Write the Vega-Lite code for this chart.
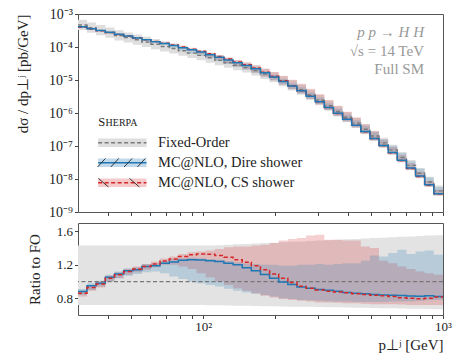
{
  "$schema": "https://vega.github.io/schema/vega-lite/v6.json",
  "background": "white",
  "padding": {"left": 14, "top": 6, "right": 4, "bottom": 5},
  "spacing": 2,
  "config": {
    "font": "Liberation Serif",
    "view": {"stroke": "#555", "strokeWidth": 1},
    "text": {"font": "Liberation Serif"},
    "axis": {"domain": false, "grid": false, "tickColor": "#444", "labelColor": "#222", "labelFontSize": 13, "titleFontSize": 15, "titleFontWeight": "normal", "titleColor": "#222", "labelFont": "Liberation Serif", "titleFont": "Liberation Serif", "tickSize": 3.5}
  },
  "datasets": {
    "bins": [
      {"lo":30.0,"fo":4.62e-4,"fo_lo":3.27e-4,"fo_hi":6.68e-4,"dire":4.09e-4,"cs":4.00e-4,"d_lo":3.88e-4,"d_hi":4.20e-4,"c_lo":3.79e-4,"c_hi":4.11e-4,"rd":0.88,"rd_lo":0.84,"rd_hi":0.91,"rc":0.86,"rc_lo":0.82,"rc_hi":0.89,"rf_lo":0.72,"rf_hi":1.43},
      {"lo":32.7,"fo":3.83e-4,"fo_lo":2.71e-4,"fo_hi":5.53e-4,"dire":3.60e-4,"cs":3.52e-4,"d_lo":3.45e-4,"d_hi":3.75e-4,"c_lo":3.41e-4,"c_hi":3.68e-4,"rd":0.95,"rd_lo":0.90,"rd_hi":0.98,"rc":0.93,"rc_lo":0.89,"rc_hi":0.96,"rf_lo":0.72,"rf_hi":1.43},
      {"lo":35.7,"fo":3.20e-4,"fo_lo":2.27e-4,"fo_hi":4.62e-4,"dire":3.17e-4,"cs":3.12e-4,"d_lo":3.01e-4,"d_hi":3.23e-4,"c_lo":2.98e-4,"c_hi":3.20e-4,"rd":0.98,"rd_lo":0.94,"rd_hi":1.01,"rc":0.97,"rc_lo":0.93,"rc_hi":1.00,"rf_lo":0.72,"rf_hi":1.43},
      {"lo":39.0,"fo":2.68e-4,"fo_lo":1.90e-4,"fo_hi":3.87e-4,"dire":2.79e-4,"cs":2.76e-4,"d_lo":2.68e-4,"d_hi":2.89e-4,"c_lo":2.68e-4,"c_hi":2.87e-4,"rd":1.05,"rd_lo":1.00,"rd_hi":1.08,"rc":1.04,"rc_lo":1.00,"rc_hi":1.07,"rf_lo":0.72,"rf_hi":1.43},
      {"lo":42.6,"fo":2.22e-4,"fo_lo":1.57e-4,"fo_hi":3.21e-4,"dire":2.44e-4,"cs":2.41e-4,"d_lo":2.31e-4,"d_hi":2.49e-4,"c_lo":2.31e-4,"c_hi":2.46e-4,"rd":1.09,"rd_lo":1.04,"rd_hi":1.12,"rc":1.08,"rc_lo":1.04,"rc_hi":1.11,"rf_lo":0.72,"rf_hi":1.43},
      {"lo":46.5,"fo":1.92e-4,"fo_lo":1.36e-4,"fo_hi":2.77e-4,"dire":2.15e-4,"cs":2.15e-4,"d_lo":2.05e-4,"d_hi":2.23e-4,"c_lo":2.07e-4,"c_hi":2.21e-4,"rd":1.13,"rd_lo":1.07,"rd_hi":1.16,"rc":1.12,"rc_lo":1.08,"rc_hi":1.15,"rf_lo":0.72,"rf_hi":1.43},
      {"lo":50.8,"fo":1.65e-4,"fo_lo":1.17e-4,"fo_hi":2.38e-4,"dire":1.89e-4,"cs":1.90e-4,"d_lo":1.80e-4,"d_hi":1.93e-4,"c_lo":1.83e-4,"c_hi":1.95e-4,"rd":1.14,"rd_lo":1.09,"rd_hi":1.17,"rc":1.15,"rc_lo":1.11,"rc_hi":1.18,"rf_lo":0.72,"rf_hi":1.43},
      {"lo":55.4,"fo":1.42e-4,"fo_lo":1.005e-4,"fo_hi":2.05e-4,"dire":1.66e-4,"cs":1.67e-4,"d_lo":1.58e-4,"d_hi":1.72e-4,"c_lo":1.62e-4,"c_hi":1.72e-4,"rd":1.18,"rd_lo":1.11,"rd_hi":1.21,"rc":1.18,"rc_lo":1.14,"rc_hi":1.21,"rf_lo":0.72,"rf_hi":1.43},
      {"lo":60.5,"fo":1.21e-4,"fo_lo":8.57e-5,"fo_hi":1.75e-4,"dire":1.45e-4,"cs":1.47e-4,"d_lo":1.36e-4,"d_hi":1.48e-4,"c_lo":1.42e-4,"c_hi":1.50e-4,"rd":1.19,"rd_lo":1.12,"rd_hi":1.22,"rc":1.21,"rc_lo":1.17,"rc_hi":1.24,"rf_lo":0.72,"rf_hi":1.43},
      {"lo":66.0,"fo":1.04e-4,"fo_lo":7.36e-5,"fo_hi":1.50e-4,"dire":1.27e-4,"cs":1.29e-4,"d_lo":1.14e-4,"d_hi":1.30e-4,"c_lo":1.25e-4,"c_hi":1.33e-4,"rd":1.22,"rd_lo":1.10,"rd_hi":1.25,"rc":1.245,"rc_lo":1.20,"rc_hi":1.275,"rf_lo":0.72,"rf_hi":1.43},
      {"lo":72.1,"fo":8.97e-5,"fo_lo":6.35e-5,"fo_hi":1.30e-4,"dire":1.11e-4,"cs":1.14e-4,"d_lo":9.51e-5,"d_hi":1.14e-4,"c_lo":1.08e-4,"c_hi":1.17e-4,"rd":1.235,"rd_lo":1.06,"rd_hi":1.27,"rc":1.27,"rc_lo":1.20,"rc_hi":1.30,"rf_lo":0.72,"rf_hi":1.43},
      {"lo":78.7,"fo":7.66e-5,"fo_lo":5.42e-5,"fo_hi":1.107e-4,"dire":9.57e-5,"cs":9.95e-5,"d_lo":7.89e-5,"d_hi":9.80e-5,"c_lo":9.04e-5,"c_hi":1.02e-4,"rd":1.255,"rd_lo":1.03,"rd_hi":1.28,"rc":1.30,"rc_lo":1.18,"rc_hi":1.33,"rf_lo":0.72,"rf_hi":1.43},
      {"lo":85.9,"fo":6.52e-5,"fo_lo":4.62e-5,"fo_hi":9.42e-5,"dire":8.20e-5,"cs":8.61e-5,"d_lo":6.52e-5,"d_hi":8.38e-5,"c_lo":7.50e-5,"c_hi":8.80e-5,"rd":1.26,"rd_lo":1.00,"rd_hi":1.285,"rc":1.32,"rc_lo":1.15,"rc_hi":1.35,"rf_lo":0.72,"rf_hi":1.43},
      {"lo":93.7,"fo":5.57e-5,"fo_lo":3.94e-5,"fo_hi":8.05e-5,"dire":7.01e-5,"cs":7.41e-5,"d_lo":5.46e-5,"d_hi":7.13e-5,"c_lo":6.13e-5,"c_hi":7.58e-5,"rd":1.258,"rd_lo":0.98,"rd_hi":1.28,"rc":1.33,"rc_lo":1.10,"rc_hi":1.36,"rf_lo":0.72,"rf_hi":1.43},
      {"lo":102.3,"fo":4.70e-5,"fo_lo":3.33e-5,"fo_hi":6.79e-5,"dire":5.87e-5,"cs":6.22e-5,"d_lo":4.51e-5,"d_hi":5.97e-5,"c_lo":4.94e-5,"c_hi":6.44e-5,"rd":1.25,"rd_lo":0.96,"rd_hi":1.27,"rc":1.325,"rc_lo":1.05,"rc_hi":1.37,"rf_lo":0.718,"rf_hi":1.432},
      {"lo":111.7,"fo":3.94e-5,"fo_lo":2.79e-5,"fo_hi":5.69e-5,"dire":4.89e-5,"cs":5.16e-5,"d_lo":3.70e-5,"d_hi":4.96e-5,"c_lo":3.94e-5,"c_hi":5.48e-5,"rd":1.24,"rd_lo":0.94,"rd_hi":1.26,"rc":1.31,"rc_lo":1.00,"rc_hi":1.39,"rf_lo":0.716,"rf_hi":1.435},
      {"lo":121.9,"fo":3.33e-5,"fo_lo":2.36e-5,"fo_hi":4.81e-5,"dire":4.06e-5,"cs":4.31e-5,"d_lo":3.05e-5,"d_hi":4.15e-5,"c_lo":3.20e-5,"c_hi":4.70e-5,"rd":1.22,"rd_lo":0.915,"rd_hi":1.245,"rc":1.29,"rc_lo":0.96,"rc_hi":1.41,"rf_lo":0.714,"rf_hi":1.44},
      {"lo":133.1,"fo":2.79e-5,"fo_lo":1.98e-5,"fo_hi":4.03e-5,"dire":3.35e-5,"cs":3.52e-5,"d_lo":2.48e-5,"d_hi":3.43e-5,"c_lo":2.57e-5,"c_hi":3.96e-5,"rd":1.20,"rd_lo":0.89,"rd_hi":1.23,"rc":1.26,"rc_lo":0.92,"rc_hi":1.42,"rf_lo":0.712,"rf_hi":1.445},
      {"lo":145.3,"fo":2.37e-5,"fo_lo":1.68e-5,"fo_hi":3.42e-5,"dire":2.76e-5,"cs":2.92e-5,"d_lo":2.06e-5,"d_hi":2.88e-5,"c_lo":2.11e-5,"c_hi":3.37e-5,"rd":1.165,"rd_lo":0.87,"rd_hi":1.215,"rc":1.23,"rc_lo":0.89,"rc_hi":1.42,"rf_lo":0.71,"rf_hi":1.45},
      {"lo":158.6,"fo":1.93e-5,"fo_lo":1.37e-5,"fo_hi":2.79e-5,"dire":2.18e-5,"cs":2.30e-5,"d_lo":1.65e-5,"d_hi":2.34e-5,"c_lo":1.66e-5,"c_hi":2.76e-5,"rd":1.13,"rd_lo":0.855,"rd_hi":1.21,"rc":1.19,"rc_lo":0.86,"rc_hi":1.43,"rf_lo":0.708,"rf_hi":1.455},
      {"lo":173.1,"fo":1.52e-5,"fo_lo":1.08e-5,"fo_hi":2.20e-5,"dire":1.65e-5,"cs":1.73e-5,"d_lo":1.28e-5,"d_hi":1.82e-5,"c_lo":1.26e-5,"c_hi":2.19e-5,"rd":1.085,"rd_lo":0.84,"rd_hi":1.20,"rc":1.14,"rc_lo":0.83,"rc_hi":1.44,"rf_lo":0.706,"rf_hi":1.46},
      {"lo":189.0,"fo":1.20e-5,"fo_lo":8.50e-6,"fo_hi":1.73e-5,"dire":1.24e-5,"cs":1.30e-5,"d_lo":9.84e-6,"d_hi":1.44e-5,"c_lo":9.72e-6,"c_hi":1.75e-5,"rd":1.04,"rd_lo":0.82,"rd_hi":1.20,"rc":1.09,"rc_lo":0.81,"rc_hi":1.46,"rf_lo":0.704,"rf_hi":1.465},
      {"lo":206.3,"fo":9.08e-6,"fo_lo":6.43e-6,"fo_hi":1.31e-5,"dire":9.04e-6,"cs":9.44e-6,"d_lo":7.26e-6,"d_hi":1.08e-5,"c_lo":7.17e-6,"c_hi":1.35e-5,"rd":0.995,"rd_lo":0.80,"rd_hi":1.19,"rc":1.04,"rc_lo":0.79,"rc_hi":1.49,"rf_lo":0.702,"rf_hi":1.47},
      {"lo":225.2,"fo":6.76e-6,"fo_lo":4.79e-6,"fo_hi":9.77e-6,"dire":6.53e-6,"cs":6.70e-6,"d_lo":5.34e-6,"d_hi":8.04e-6,"c_lo":5.27e-6,"c_hi":1.02e-5,"rd":0.965,"rd_lo":0.79,"rd_hi":1.19,"rc":0.99,"rc_lo":0.78,"rc_hi":1.51,"rf_lo":0.70,"rf_hi":1.475},
      {"lo":245.8,"fo":5.04e-6,"fo_lo":3.57e-6,"fo_hi":7.28e-6,"dire":4.71e-6,"cs":4.75e-6,"d_lo":3.93e-6,"d_hi":6.05e-6,"c_lo":3.88e-6,"c_hi":7.66e-6,"rd":0.935,"rd_lo":0.78,"rd_hi":1.20,"rc":0.945,"rc_lo":0.77,"rc_hi":1.52,"rf_lo":0.70,"rf_hi":1.48},
      {"lo":268.3,"fo":3.50e-6,"fo_lo":2.48e-6,"fo_hi":5.06e-6,"dire":3.22e-6,"cs":3.22e-6,"d_lo":2.71e-6,"d_hi":4.20e-6,"c_lo":2.66e-6,"c_hi":5.43e-6,"rd":0.92,"rd_lo":0.775,"rd_hi":1.20,"rc":0.92,"rc_lo":0.76,"rc_hi":1.55,"rf_lo":0.698,"rf_hi":1.485},
      {"lo":292.9,"fo":2.43e-6,"fo_lo":1.72e-6,"fo_hi":3.51e-6,"dire":2.20e-6,"cs":2.19e-6,"d_lo":1.87e-6,"d_hi":2.94e-6,"c_lo":1.82e-6,"c_hi":3.79e-6,"rd":0.905,"rd_lo":0.77,"rd_hi":1.21,"rc":0.90,"rc_lo":0.75,"rc_hi":1.56,"rf_lo":0.696,"rf_hi":1.49},
      {"lo":319.8,"fo":1.65e-6,"fo_lo":1.17e-6,"fo_hi":2.38e-6,"dire":1.48e-6,"cs":1.46e-6,"d_lo":1.26e-6,"d_hi":1.98e-6,"c_lo":1.24e-6,"c_hi":2.48e-6,"rd":0.895,"rd_lo":0.765,"rd_hi":1.20,"rc":0.885,"rc_lo":0.75,"rc_hi":1.50,"rf_lo":0.694,"rf_hi":1.495},
      {"lo":349.0,"fo":1.11e-6,"fo_lo":7.86e-7,"fo_hi":1.60e-6,"dire":9.79e-7,"cs":9.68e-7,"d_lo":8.44e-7,"d_hi":1.34e-6,"c_lo":8.27e-7,"c_hi":1.67e-6,"rd":0.885,"rd_lo":0.76,"rd_hi":1.21,"rc":0.875,"rc_lo":0.745,"rc_hi":1.50,"rf_lo":0.692,"rf_hi":1.50},
      {"lo":381.0,"fo":7.41e-7,"fo_lo":5.25e-7,"fo_hi":1.07e-6,"dire":6.46e-7,"cs":6.41e-7,"d_lo":5.63e-7,"d_hi":9.04e-7,"c_lo":5.48e-7,"c_hi":1.10e-6,"rd":0.87,"rd_lo":0.76,"rd_hi":1.22,"rc":0.865,"rc_lo":0.74,"rc_hi":1.49,"rf_lo":0.69,"rf_hi":1.505},
      {"lo":415.9,"fo":4.94e-7,"fo_lo":3.50e-7,"fo_hi":7.14e-7,"dire":4.25e-7,"cs":4.23e-7,"d_lo":3.73e-7,"d_hi":6.03e-7,"c_lo":3.66e-7,"c_hi":7.36e-7,"rd":0.86,"rd_lo":0.755,"rd_hi":1.22,"rc":0.855,"rc_lo":0.74,"rc_hi":1.49,"rf_lo":0.688,"rf_hi":1.51},
      {"lo":454.0,"fo":3.22e-7,"fo_lo":2.28e-7,"fo_hi":4.65e-7,"dire":2.75e-7,"cs":2.72e-7,"d_lo":2.43e-7,"d_hi":4.03e-7,"c_lo":2.37e-7,"c_hi":4.57e-7,"rd":0.853,"rd_lo":0.755,"rd_hi":1.25,"rc":0.845,"rc_lo":0.735,"rc_hi":1.42,"rf_lo":0.686,"rf_hi":1.515},
      {"lo":495.5,"fo":2.01e-7,"fo_lo":1.42e-7,"fo_hi":2.90e-7,"dire":1.70e-7,"cs":1.68e-7,"d_lo":1.52e-7,"d_hi":2.63e-7,"c_lo":1.47e-7,"c_hi":2.81e-7,"rd":0.846,"rd_lo":0.755,"rd_hi":1.31,"rc":0.835,"rc_lo":0.73,"rc_hi":1.40,"rf_lo":0.684,"rf_hi":1.52},
      {"lo":540.9,"fo":1.24e-7,"fo_lo":8.78e-8,"fo_hi":1.79e-7,"dire":1.04e-7,"cs":1.03e-7,"d_lo":9.36e-8,"d_hi":1.61e-7,"c_lo":9.05e-8,"c_hi":1.55e-7,"rd":0.84,"rd_lo":0.755,"rd_hi":1.30,"rc":0.83,"rc_lo":0.73,"rc_hi":1.25,"rf_lo":0.682,"rf_hi":1.525},
      {"lo":590.5,"fo":7.62e-8,"fo_lo":5.39e-8,"fo_hi":1.10e-7,"dire":6.37e-8,"cs":6.25e-8,"d_lo":5.79e-8,"d_hi":1.02e-7,"c_lo":5.56e-8,"c_hi":9.30e-8,"rd":0.836,"rd_lo":0.76,"rd_hi":1.34,"rc":0.82,"rc_lo":0.73,"rc_hi":1.22,"rf_lo":0.68,"rf_hi":1.53},
      {"lo":644.6,"fo":4.49e-8,"fo_lo":3.18e-8,"fo_hi":6.49e-8,"dire":3.73e-8,"cs":3.61e-8,"d_lo":3.41e-8,"d_hi":6.20e-8,"c_lo":3.26e-8,"c_hi":5.30e-8,"rd":0.832,"rd_lo":0.76,"rd_hi":1.38,"rc":0.805,"rc_lo":0.725,"rc_hi":1.18,"rf_lo":0.678,"rf_hi":1.535},
      {"lo":703.6,"fo":2.59e-8,"fo_lo":1.83e-8,"fo_hi":3.74e-8,"dire":2.15e-8,"cs":2.07e-8,"d_lo":1.98e-8,"d_hi":3.44e-8,"c_lo":1.86e-8,"c_hi":2.98e-8,"rd":0.828,"rd_lo":0.765,"rd_hi":1.33,"rc":0.80,"rc_lo":0.72,"rc_hi":1.15,"rf_lo":0.676,"rf_hi":1.54},
      {"lo":768.1,"fo":1.49e-8,"fo_lo":1.05e-8,"fo_hi":2.15e-8,"dire":1.23e-8,"cs":1.19e-8,"d_lo":1.15e-8,"d_hi":2.03e-8,"c_lo":1.07e-8,"c_hi":1.67e-8,"rd":0.825,"rd_lo":0.77,"rd_hi":1.36,"rc":0.795,"rc_lo":0.72,"rc_hi":1.12,"rf_lo":0.674,"rf_hi":1.545},
      {"lo":838.4,"fo":8.07e-9,"fo_lo":5.71e-9,"fo_hi":1.17e-8,"dire":6.65e-9,"cs":6.46e-9,"d_lo":6.25e-9,"d_hi":1.11e-8,"c_lo":5.81e-9,"c_hi":8.88e-9,"rd":0.83,"rd_lo":0.775,"rd_hi":1.37,"rc":0.80,"rc_lo":0.72,"rc_hi":1.10,"rf_lo":0.672,"rf_hi":1.55},
      {"lo":915.2,"fo":4.37e-9,"fo_lo":3.09e-9,"fo_hi":6.31e-9,"dire":3.60e-9,"cs":3.56e-9,"d_lo":3.41e-9,"d_hi":5.77e-9,"c_lo":3.15e-9,"c_hi":4.72e-9,"rd":0.822,"rd_lo":0.78,"rd_hi":1.32,"rc":0.815,"rc_lo":0.72,"rc_hi":1.08,"rf_lo":0.67,"rf_hi":1.555},
      {"lo":1000,"fo":4.37e-9,"fo_lo":3.09e-9,"fo_hi":6.31e-9,"dire":3.60e-9,"cs":3.56e-9,"d_lo":3.41e-9,"d_hi":5.77e-9,"c_lo":3.15e-9,"c_hi":4.72e-9,"rd":0.822,"rd_lo":0.78,"rd_hi":1.32,"rc":0.815,"rc_lo":0.72,"rc_hi":1.08,"rf_lo":0.67,"rf_hi":1.555}
    ]
  },
  "vconcat": [
    {
      "width": 365,
      "height": 198,
      "layer": [
        {
          "data": {"name": "bins"},
          "mark": {"type": "area", "interpolate": "step-after", "fill": "#dedede", "clip": true},
          "encoding": {
            "x": {"field": "lo", "type": "quantitative", "scale": {"type": "log", "domain": [30, 1000], "nice": false},
              "axis": {"values": [40,50,60,70,80,90,100,200,300,400,500,600,700,800,900,1000], "labels": false, "title": null}},
            "y": {"field": "fo_lo", "type": "quantitative", "scale": {"type": "log", "domain": [1e-9, 1e-3], "nice": false},
              "axis": {"values": [1e-9,1e-8,1e-7,1e-6,1e-5,1e-4,1e-3], "labelFontSize": 14, "labelExpr": "['10⁻⁹','10⁻⁸','10⁻⁷','10⁻⁶','10⁻⁵','10⁻⁴','10⁻³'][round(log(datum.value)/LN10) + 9]", "title": "dσ / dp⊥ʲ [pb/GeV]", "titleAnchor": "end", "titleX": -56, "titleBaseline": "middle"}},
            "y2": {"field": "fo_hi"}
          }
        },
        {
          "data": {"name": "bins"},
          "mark": {"type": "area", "interpolate": "step-after", "fill": "#d62728", "fillOpacity": 0.2, "clip": true},
          "encoding": {"x": {"field": "lo", "type": "quantitative"}, "y": {"field": "c_lo", "type": "quantitative"}, "y2": {"field": "c_hi"}}
        },
        {
          "data": {"name": "bins"},
          "mark": {"type": "area", "interpolate": "step-after", "fill": "#1f77b4", "fillOpacity": 0.2, "clip": true},
          "encoding": {"x": {"field": "lo", "type": "quantitative"}, "y": {"field": "d_lo", "type": "quantitative"}, "y2": {"field": "d_hi"}}
        },
        {
          "data": {"name": "bins"},
          "mark": {"type": "line", "interpolate": "step-after", "stroke": "#7a7a7a", "strokeWidth": 1.4, "strokeDash": [4, 2.5], "clip": true},
          "encoding": {"x": {"field": "lo", "type": "quantitative"}, "y": {"field": "fo", "type": "quantitative"}}
        },
        {
          "data": {"name": "bins"},
          "mark": {"type": "line", "interpolate": "step-after", "stroke": "#d62728", "strokeWidth": 1.5, "strokeDash": [4, 2.5], "clip": true},
          "encoding": {"x": {"field": "lo", "type": "quantitative"}, "y": {"field": "cs", "type": "quantitative"}}
        },
        {
          "data": {"name": "bins"},
          "mark": {"type": "line", "interpolate": "step-after", "stroke": "#1f77b4", "strokeWidth": 1.5, "clip": true},
          "encoding": {"x": {"field": "lo", "type": "quantitative"}, "y": {"field": "dire", "type": "quantitative"}}
        },
        {
          "data": {"values": [{}]},
          "mark": {"type": "text", "align": "right", "baseline": "middle", "fontStyle": "italic", "fontSize": 15, "color": "#999"},
          "encoding": {"x": {"datum": 833}, "y": {"datum": 2.9e-4}, "text": {"value": "p p → H H"}}
        },
        {
          "data": {"values": [{}]},
          "mark": {"type": "text", "align": "right", "baseline": "middle", "fontSize": 15, "color": "#999"},
          "encoding": {"x": {"datum": 833}, "y": {"datum": 7.57e-5}, "text": {"value": "√s = 14 TeV"}}
        },
        {
          "data": {"values": [{}]},
          "mark": {"type": "text", "align": "right", "baseline": "middle", "fontSize": 15, "color": "#999"},
          "encoding": {"x": {"datum": 833}, "y": {"datum": 2.16e-5}, "text": {"value": "Full SM"}}
        },
        {
          "data": {"values": [{}]},
          "mark": {"type": "text", "align": "left", "baseline": "middle", "fontSize": 12.5, "color": "#222"},
          "encoding": {"x": {"datum": 36.4}, "y": {"datum": 5.33e-7}, "text": {"value": "S"}}
        },
        {
          "data": {"values": [{}]},
          "mark": {"type": "text", "align": "left", "baseline": "middle", "fontSize": 10, "color": "#222", "dy": 1},
          "encoding": {"x": {"datum": 39.1}, "y": {"datum": 5.33e-7}, "text": {"value": "HERPA"}}
        },
        {
          "data": {"values": [{}]},
          "mark": {"type": "rect", "fill": "#dedede"},
          "encoding": {"x": {"datum": 36.4}, "x2": {"datum": 57.9}, "y": {"datum": 9.33e-8}, "y2": {"datum": 1.70e-7}}
        },
        {
          "data": {"values": [{}]},
          "mark": {"type": "rule", "stroke": "#7a7a7a", "strokeWidth": 1.4, "strokeDash": [4, 2.5]},
          "encoding": {"x": {"datum": 36.4}, "x2": {"datum": 57.9}, "y": {"datum": 1.26e-7}}
        },
        {
          "data": {"values": [{}]},
          "mark": {"type": "text", "align": "left", "baseline": "middle", "fontSize": 14.5, "color": "#222"},
          "encoding": {"x": {"datum": 64.7}, "y": {"datum": 1.26e-7}, "text": {"value": "Fixed-Order"}}
        },
        {
          "data": {"values": [{}]},
          "mark": {"type": "rect", "fill": "#1f77b4", "fillOpacity": 0.28},
          "encoding": {"x": {"datum": 36.4}, "x2": {"datum": 57.9}, "y": {"datum": 2.31e-8}, "y2": {"datum": 4.21e-8}}
        },
        {
          "data": {"values": [{}]},
          "mark": {"type": "rule", "stroke": "#1f77b4", "strokeWidth": 1.5},
          "encoding": {"x": {"datum": 36.4}, "x2": {"datum": 57.9}, "y": {"datum": 3.12e-8}}
        },
        {
          "data": {"values": [{}]},
          "mark": {"type": "rule", "stroke": "#222", "strokeWidth": 0.9},
          "encoding": {"x": {"datum": 36.2}, "x2": {"datum": 39.05}, "y": {"datum": 2.31e-8}, "y2": {"datum": 4.21e-8}}
        },
        {
          "data": {"values": [{}]},
          "mark": {"type": "rule", "stroke": "#222", "strokeWidth": 0.9},
          "encoding": {"x": {"datum": 41.1}, "x2": {"datum": 44.4}, "y": {"datum": 2.31e-8}, "y2": {"datum": 4.21e-8}}
        },
        {
          "data": {"values": [{}]},
          "mark": {"type": "rule", "stroke": "#222", "strokeWidth": 0.9},
          "encoding": {"x": {"datum": 46.7}, "x2": {"datum": 50.5}, "y": {"datum": 2.31e-8}, "y2": {"datum": 4.21e-8}}
        },
        {
          "data": {"values": [{}]},
          "mark": {"type": "rule", "stroke": "#222", "strokeWidth": 0.9},
          "encoding": {"x": {"datum": 53.1}, "x2": {"datum": 57.3}, "y": {"datum": 2.31e-8}, "y2": {"datum": 4.21e-8}}
        },
        {
          "data": {"values": [{}]},
          "mark": {"type": "text", "align": "left", "baseline": "middle", "fontSize": 14.5, "color": "#222"},
          "encoding": {"x": {"datum": 64.7}, "y": {"datum": 3.12e-8}, "text": {"value": "MC@NLO, Dire shower"}}
        },
        {
          "data": {"values": [{}]},
          "mark": {"type": "rect", "fill": "#d62728", "fillOpacity": 0.25},
          "encoding": {"x": {"datum": 36.4}, "x2": {"datum": 57.9}, "y": {"datum": 5.73e-9}, "y2": {"datum": 1.04e-8}}
        },
        {
          "data": {"values": [{}]},
          "mark": {"type": "rule", "stroke": "#d62728", "strokeWidth": 1.5, "strokeDash": [4, 2.5]},
          "encoding": {"x": {"datum": 36.4}, "x2": {"datum": 57.9}, "y": {"datum": 7.73e-9}}
        },
        {
          "data": {"values": [{}]},
          "mark": {"type": "rule", "stroke": "#222", "strokeWidth": 0.9},
          "encoding": {"x": {"datum": 36.5}, "x2": {"datum": 40.2}, "y": {"datum": 1.04e-8}, "y2": {"datum": 5.73e-9}}
        },
        {
          "data": {"values": [{}]},
          "mark": {"type": "rule", "stroke": "#222", "strokeWidth": 0.9},
          "encoding": {"x": {"datum": 49.2}, "x2": {"datum": 54.1}, "y": {"datum": 1.04e-8}, "y2": {"datum": 5.73e-9}}
        },
        {
          "data": {"values": [{}]},
          "mark": {"type": "text", "align": "left", "baseline": "middle", "fontSize": 14.5, "color": "#222"},
          "encoding": {"x": {"datum": 64.7}, "y": {"datum": 7.73e-9}, "text": {"value": "MC@NLO, CS shower"}}
        }
      ]
    },
    {
      "width": 365,
      "height": 92,
      "layer": [
        {
          "data": {"name": "bins"},
          "mark": {"type": "area", "interpolate": "step-after", "fill": "#e3e3e3", "clip": true},
          "encoding": {
            "x": {"field": "lo", "type": "quantitative", "scale": {"type": "log", "domain": [30, 1000], "nice": false},
              "axis": {"values": [40,50,60,70,80,90,100,200,300,400,500,600,700,800,900,1000], "labelExpr": "datum.value == 100 ? '10²' : datum.value == 1000 ? '10³' : ''", "labelFlush": false, "labelOverlap": false, "title": "p⊥ʲ [GeV]", "titleAnchor": "end", "titlePadding": 4}},
            "y": {"field": "rf_lo", "type": "quantitative", "scale": {"domain": [0.6, 1.7], "nice": false, "zero": false},
              "axis": {"values": [0.8, 1.2, 1.6], "format": ".1f", "title": "Ratio to FO", "titleX": -44, "titleBaseline": "middle"}},
            "y2": {"field": "rf_hi"}
          }
        },
        {
          "data": {"name": "bins"},
          "mark": {"type": "area", "interpolate": "step-after", "fill": "#d62728", "fillOpacity": 0.22, "clip": true},
          "encoding": {"x": {"field": "lo", "type": "quantitative"}, "y": {"field": "rc_lo", "type": "quantitative"}, "y2": {"field": "rc_hi"}}
        },
        {
          "data": {"name": "bins"},
          "mark": {"type": "area", "interpolate": "step-after", "fill": "#1f77b4", "fillOpacity": 0.22, "clip": true},
          "encoding": {"x": {"field": "lo", "type": "quantitative"}, "y": {"field": "rd_lo", "type": "quantitative"}, "y2": {"field": "rd_hi"}}
        },
        {
          "data": {"values": [{}]},
          "mark": {"type": "rule", "stroke": "#777", "strokeDash": [4, 2.5], "strokeWidth": 1.3},
          "encoding": {"y": {"datum": 1}}
        },
        {
          "data": {"name": "bins"},
          "mark": {"type": "line", "interpolate": "step-after", "stroke": "#1f77b4", "strokeWidth": 1.5, "clip": true},
          "encoding": {"x": {"field": "lo", "type": "quantitative"}, "y": {"field": "rd", "type": "quantitative"}}
        },
        {
          "data": {"name": "bins"},
          "mark": {"type": "line", "interpolate": "step-after", "stroke": "#d62728", "strokeWidth": 1.5, "strokeDash": [4, 2.5], "clip": true},
          "encoding": {"x": {"field": "lo", "type": "quantitative"}, "y": {"field": "rc", "type": "quantitative"}}
        }
      ]
    }
  ]
}
